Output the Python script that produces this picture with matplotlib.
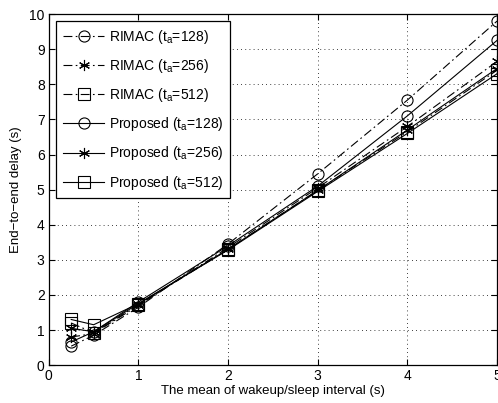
import numpy as np
import matplotlib
matplotlib.use('Agg')
import matplotlib.pyplot as plt

plt.rcParams['font.family'] = ['Liberation Sans', 'DejaVu Sans']
plt.rcParams['mathtext.fontset'] = 'custom'
plt.rcParams['mathtext.rm'] = 'Liberation Sans'
plt.rcParams['mathtext.it'] = 'Liberation Sans:italic'

x = [0.25, 0.5, 1, 2, 3, 4, 5]

rimac_128 = [0.54, 0.85, 1.65, 3.45, 5.45, 7.55, 9.8]
rimac_256 = [0.8, 0.9, 1.7, 3.35, 5.05, 6.8, 8.65]
rimac_512 = [1.2, 0.92, 1.72, 3.3, 4.98, 6.65, 8.4]
prop_128 = [0.66, 0.95, 1.8, 3.4, 5.1, 7.1, 9.25]
prop_256 = [1.05, 0.95, 1.75, 3.3, 4.98, 6.7, 8.45]
prop_512 = [1.3, 1.15, 1.75, 3.28, 4.95, 6.6, 8.3]

labels = [r'RIMAC (t$_\mathregular{a}$=128)', r'RIMAC (t$_\mathregular{a}$=256)', r'RIMAC (t$_\mathregular{a}$=512)',
          r'Proposed (t$_\mathregular{a}$=128)', r'Proposed (t$_\mathregular{a}$=256)', r'Proposed (t$_\mathregular{a}$=512)']

star = (6, 2, 0)
dashdot = (0, (8, 3, 1.5, 3))

fig = plt.figure(figsize=(4.98, 4.03), dpi=100)
ax = fig.add_axes([0.098, 0.094, 0.9, 0.871])

series = [
    (rimac_128, 'o', dashdot),
    (rimac_256, star, dashdot),
    (rimac_512, 's', dashdot),
    (prop_128, 'o', '-'),
    (prop_256, star, '-'),
    (prop_512, 's', '-'),
]
for (vals, m, ls), lab in zip(series, labels):
    ax.plot(x, vals, color='black', linestyle=ls, linewidth=0.8, marker=m,
            markersize=8, markerfacecolor='none', markeredgecolor='black',
            markeredgewidth=0.8, label=lab)

ax.set_xlim(0, 5)
ax.set_ylim(0, 10)
ax.set_xticks(range(0, 6))
ax.set_yticks(range(0, 11))
ax.tick_params(direction='in', top=True, right=True, labelsize=10, length=4, pad=3)
ax.grid(True, linestyle=(0, (1, 4)), color='black', linewidth=0.6)
for s in ax.spines.values():
    s.set_linewidth(0.9)

ax.set_xlabel('The mean of wakeup/sleep interval (s)', fontsize=9.5, labelpad=1)
ax.set_ylabel('End\u2212to\u2212end delay (s)', fontsize=9.5, labelpad=5)

leg = ax.legend(loc='upper left', fontsize=10, frameon=True, fancybox=False,
                edgecolor='black', framealpha=1, handlelength=3.0,
                borderaxespad=0.5, labelspacing=0.8, handletextpad=0.3,
                borderpad=0.5)
leg.get_frame().set_linewidth(0.9)

fig.savefig('out.png', dpi=100)
